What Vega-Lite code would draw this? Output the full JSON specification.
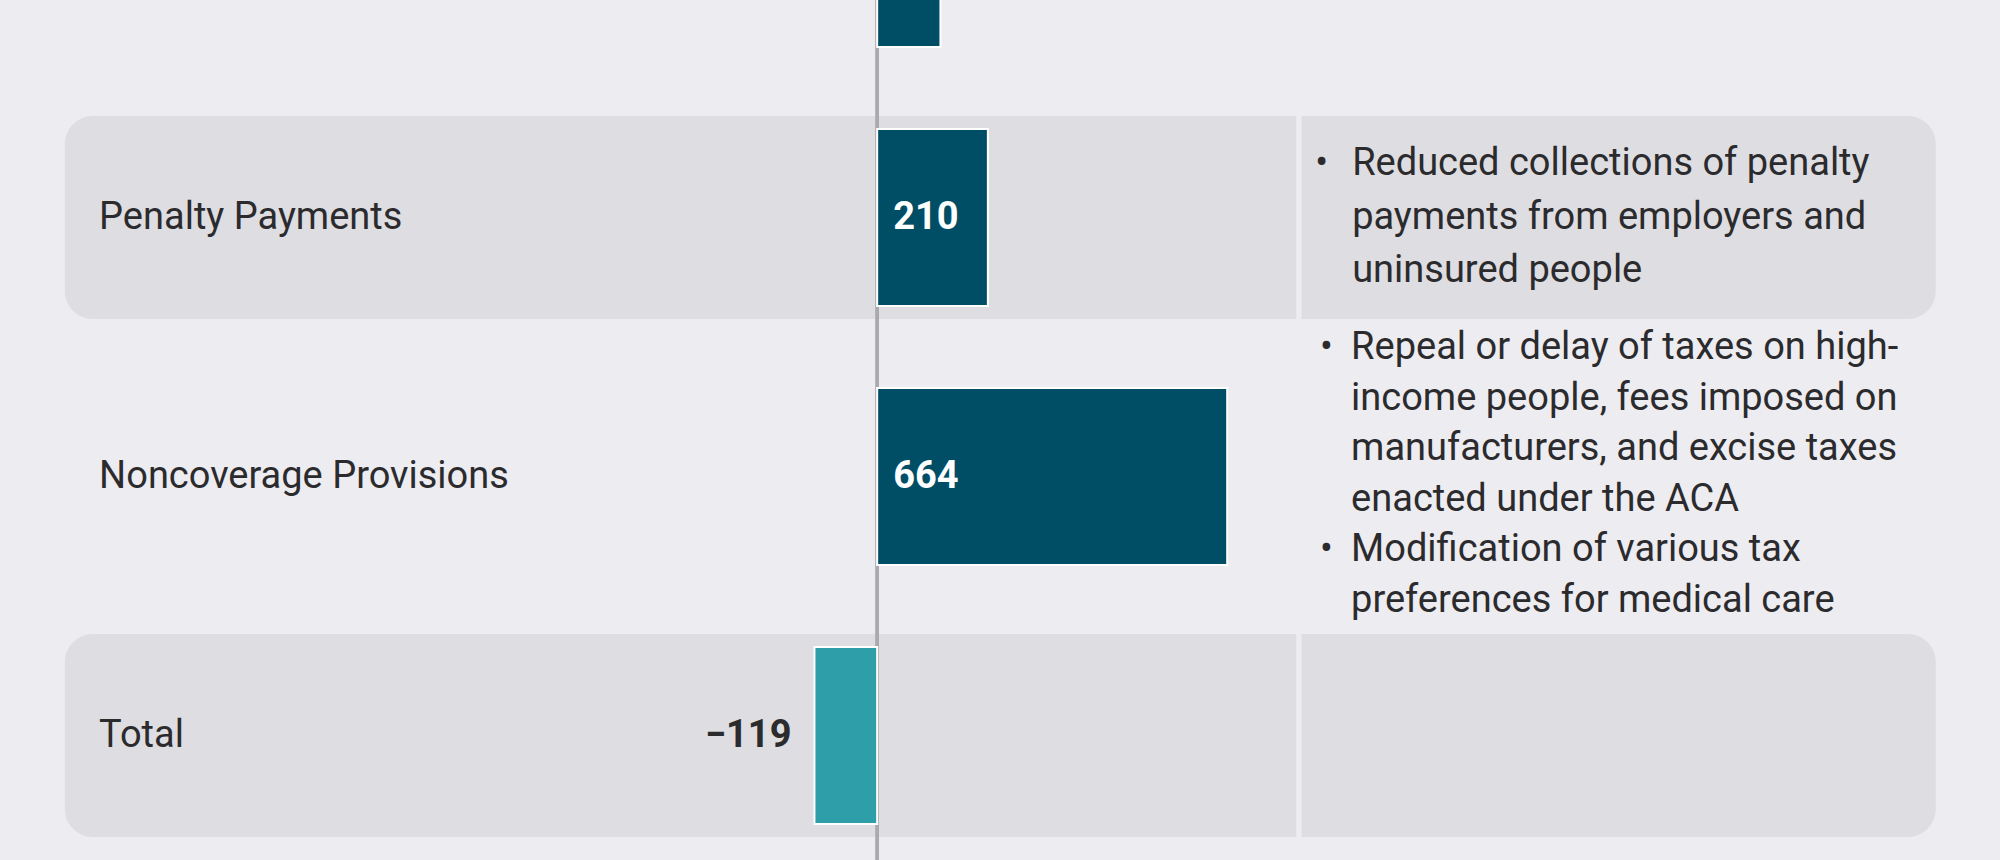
{
  "$schema": "https://vega.github.io/schema/vega-lite/v6.json",
  "width": 2000,
  "height": 860,
  "autosize": "none",
  "padding": 0,
  "background": "#edecf1",
  "config": {"view": {"stroke": null}},
  "data": {
    "values": [
      {"item": "Row above", "value": 120, "note": [], "bullet": ""},
      {"item": "Penalty Payments", "value": 210, "note": ["Reduced collections of penalty", "payments from employers and", "uninsured people"], "bullet": "•"},
      {"item": "Noncoverage Provisions", "value": 664, "note": ["Repeal or delay of taxes on high-", "income people, fees imposed on", "manufacturers, and excise taxes", "enacted under the ACA", "Modification of various tax", "preferences for medical care"], "bullet": "•"},
      {"item": "Total", "value": -119, "note": [], "bullet": ""}
    ]
  },
  "layer": [
    {
      "transform": [{"filter": {"field": "item", "oneOf": ["Penalty Payments", "Total"]}}],
      "mark": {"type": "bar", "size": 203, "color": "#dedde2", "cornerRadiusTopLeft": 28, "cornerRadiusBottomLeft": 28},
      "encoding": {
        "y": {"field": "item", "type": "nominal", "sort": null, "axis": null, "scale": {"domain": ["Row above", "Penalty Payments", "Noncoverage Provisions", "Total"], "range": [-171, 865], "paddingInner": 0, "paddingOuter": 0}},
        "x": {"datum": -1541, "type": "quantitative", "scale": {"domain": [-1664, 2130]}, "axis": null},
        "x2": {"datum": 795}
      }
    },
    {
      "transform": [{"filter": {"field": "item", "oneOf": ["Penalty Payments", "Total"]}}],
      "mark": {"type": "bar", "size": 203, "color": "#dedde2", "cornerRadiusTopRight": 28, "cornerRadiusBottomRight": 28},
      "encoding": {
        "y": {"field": "item", "type": "nominal", "sort": null, "axis": null},
        "x": {"datum": 805, "type": "quantitative", "scale": {"domain": [-1664, 2130]}, "axis": null},
        "x2": {"datum": 2008}
      }
    },
    {
      "mark": {"type": "rule", "color": "#a9a9ae", "strokeWidth": 3},
      "encoding": {
        "x": {"datum": 0, "type": "quantitative", "scale": {"domain": [-1664, 2130]}, "axis": null}
      }
    },
    {
      "mark": {"type": "bar", "size": 177, "clip": true, "stroke": "#ffffff", "strokeWidth": 2},
      "encoding": {
        "y": {"field": "item", "type": "nominal", "sort": null, "axis": null},
        "x": {"field": "value", "type": "quantitative", "scale": {"domain": [-1664, 2130]}, "axis": null},
        "color": {"condition": {"test": "datum.item === 'Total'", "value": "#2e9fa8"}, "value": "#004e66"}
      }
    },
    {
      "transform": [{"filter": {"field": "item", "oneOf": ["Penalty Payments", "Noncoverage Provisions", "Total"]}}],
      "mark": {"type": "text", "align": "left", "baseline": "middle", "font": "Roboto", "fontSize": 38, "color": "#2b2b2e"},
      "encoding": {
        "y": {"field": "item", "type": "nominal", "sort": null, "axis": null},
        "x": {"datum": -1476, "type": "quantitative", "scale": {"domain": [-1664, 2130]}, "axis": null},
        "text": {"field": "item", "type": "nominal"}
      }
    },
    {
      "transform": [{"filter": {"field": "item", "oneOf": ["Penalty Payments", "Noncoverage Provisions"]}}],
      "mark": {"type": "text", "align": "left", "baseline": "middle", "dx": 16, "font": "Roboto", "fontSize": 38, "fontWeight": "bold", "color": "#ffffff"},
      "encoding": {
        "y": {"field": "item", "type": "nominal", "sort": null, "axis": null},
        "x": {"datum": 0, "type": "quantitative", "scale": {"domain": [-1664, 2130]}, "axis": null},
        "text": {"field": "value", "type": "quantitative", "format": "d"}
      }
    },
    {
      "transform": [{"filter": {"field": "item", "equal": "Total"}}],
      "mark": {"type": "text", "align": "right", "baseline": "middle", "dx": -23, "font": "Roboto", "fontSize": 38, "fontWeight": "bold", "color": "#2b2b2e"},
      "encoding": {
        "y": {"field": "item", "type": "nominal", "sort": null, "axis": null},
        "x": {"field": "value", "type": "quantitative", "scale": {"domain": [-1664, 2130]}, "axis": null},
        "text": {"field": "value", "type": "quantitative", "format": "d"}
      }
    },
    {
      "transform": [{"filter": {"field": "item", "equal": "Penalty Payments"}}],
      "mark": {"type": "text", "align": "left", "baseline": "middle", "dy": -53.5, "font": "Roboto", "fontSize": 38, "lineHeight": 53.5, "color": "#2b2b2e"},
      "encoding": {
        "y": {"field": "item", "type": "nominal", "sort": null, "axis": null},
        "x": {"datum": 901, "type": "quantitative", "scale": {"domain": [-1664, 2130]}, "axis": null},
        "text": {"field": "note", "type": "nominal"}
      }
    },
    {
      "transform": [{"filter": {"field": "item", "equal": "Noncoverage Provisions"}}],
      "mark": {"type": "text", "align": "left", "baseline": "middle", "dy": -128.5, "font": "Roboto", "fontSize": 38, "lineHeight": 50.6, "color": "#2b2b2e"},
      "encoding": {
        "y": {"field": "item", "type": "nominal", "sort": null, "axis": null},
        "x": {"datum": 899, "type": "quantitative", "scale": {"domain": [-1664, 2130]}, "axis": null},
        "text": {"field": "note", "type": "nominal"}
      }
    },
    {
      "transform": [{"filter": {"field": "item", "equal": "Penalty Payments"}}],
      "mark": {"type": "text", "align": "left", "baseline": "middle", "dy": -53.5, "font": "Roboto", "fontSize": 38, "color": "#2b2b2e"},
      "encoding": {
        "y": {"field": "item", "type": "nominal", "sort": null, "axis": null},
        "x": {"datum": 831, "type": "quantitative", "scale": {"domain": [-1664, 2130]}, "axis": null},
        "text": {"field": "bullet", "type": "nominal"}
      }
    },
    {
      "transform": [{"filter": {"field": "item", "equal": "Noncoverage Provisions"}}],
      "mark": {"type": "text", "align": "left", "baseline": "middle", "dy": -128.5, "font": "Roboto", "fontSize": 38, "color": "#2b2b2e"},
      "encoding": {
        "y": {"field": "item", "type": "nominal", "sort": null, "axis": null},
        "x": {"datum": 840, "type": "quantitative", "scale": {"domain": [-1664, 2130]}, "axis": null},
        "text": {"field": "bullet", "type": "nominal"}
      }
    },
    {
      "transform": [{"filter": {"field": "item", "equal": "Noncoverage Provisions"}}],
      "mark": {"type": "text", "align": "left", "baseline": "middle", "dy": 73.5, "font": "Roboto", "fontSize": 38, "color": "#2b2b2e"},
      "encoding": {
        "y": {"field": "item", "type": "nominal", "sort": null, "axis": null},
        "x": {"datum": 840, "type": "quantitative", "scale": {"domain": [-1664, 2130]}, "axis": null},
        "text": {"field": "bullet", "type": "nominal"}
      }
    }
  ]
}
